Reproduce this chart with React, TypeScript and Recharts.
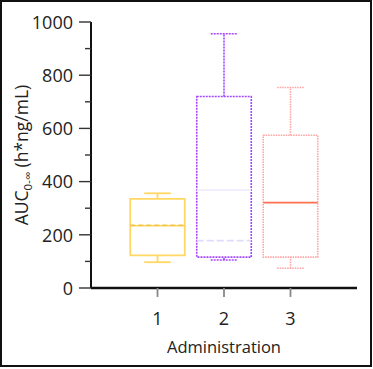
import { ComposedChart, XAxis, YAxis, Scatter, ReferenceArea, ReferenceLine } from "recharts";

// box-plot summary per administration route
const groups = [1, 2, 3];
const whiskerLow = [97, 105, 74];
const quartile1 = [123, 116, 116];
const medians = [234, 368, 321];
const means = [236, 178, 321];
const quartile3 = [335, 720, 574];
const whiskerHigh = [356, 956, 754];

const yTicks = [0, 100, 200, 300, 400, 500, 600, 700, 800, 900, 1000];
const xTicks = [1, 2, 3];

const boxStyles = [
  { stroke: "#FFD762", dash: undefined, median: "#FFD45A", mean: "#F2C441", meanDash: "5 3", width: 1.8 },
  { stroke: "#A447FF", dash: "2 1", median: "#F1ECFF", mean: "#E2D9FF", meanDash: "7 3", width: 1.6 },
  { stroke: "#FFA3A3", dash: "1.5 1", median: "#FF7050", mean: "none", meanDash: undefined, width: 1.6 },
];

const HALF_BOX = 0.41;
const HALF_CAP = 0.2;
const FONT = "'Open Sans', 'Noto Sans', sans-serif";

const points = groups.map((g, i) => ({ x: g, y: medians[i] }));

function YTick({ x, y, payload }: any) {
  const major = payload.value % 200 === 0;
  return (
    <g>
      <line x1={x - (major ? 12 : 6)} x2={x} y1={y} y2={y} stroke="#333" strokeWidth={1.4} />
      {major && (
        <text x={x - 18} y={y} dy="0.38em" textAnchor="end" fontSize={18} fill="#222" fontFamily={FONT}>
          {payload.value}
        </text>
      )}
    </g>
  );
}

function YLabel({ viewBox }: any) {
  const cx = (viewBox?.x ?? 0) + 28;
  const cy = (viewBox?.y ?? 22) + (viewBox?.height ?? 266) / 2;
  return (
    <text transform={`translate(${cx}, ${cy}) rotate(-90)`} textAnchor="middle" fontSize={17.5} fill="#222" fontFamily={FONT}>
      AUC
      <tspan fontSize={11.5} dy={4}>0-∞</tspan>
      <tspan dy={-4}> (h*ng/mL)</tspan>
    </text>
  );
}

export default function App() {
  return (
    <div style={{ position: "absolute", left: 0, top: 0, width: 373, height: 369, background: "#fff" }}>
      <ComposedChart width={373} height={369} data={points} margin={{ top: 22, right: 16, bottom: 0, left: 0 }}>
        <XAxis
          type="number"
          dataKey="x"
          domain={[0, 4]}
          ticks={xTicks}
          height={81}
          axisLine={{ stroke: "#111", strokeWidth: 2.4 }}
          tickLine={{ stroke: "#888", strokeWidth: 1.8 }}
          tickSize={9}
          tickMargin={15}
          tick={{ fontSize: 18, fill: "#222", fontFamily: FONT }}
          label={{ value: "Administration", position: "insideBottom", offset: 16, fontSize: 16.5, fill: "#222", fontFamily: FONT }}
        />
        <YAxis
          type="number"
          dataKey="y"
          domain={[0, 1000]}
          ticks={yTicks}
          interval={0}
          width={91}
          axisLine={{ stroke: "#111", strokeWidth: 2 }}
          tickLine={false}
          tickSize={0}
          tickMargin={0}
          tick={<YTick />}
          label={<YLabel />}
        />
        {groups.map((g, i) => {
          const s = boxStyles[i];
          return [
            <ReferenceLine key={`wl${g}`} segment={[{ x: g, y: whiskerLow[i] }, { x: g, y: quartile1[i] }]} stroke={s.stroke} strokeWidth={s.width} strokeDasharray={s.dash} />,
            <ReferenceLine key={`wh${g}`} segment={[{ x: g, y: quartile3[i] }, { x: g, y: whiskerHigh[i] }]} stroke={s.stroke} strokeWidth={s.width} strokeDasharray={s.dash} />,
            <ReferenceLine key={`cl${g}`} segment={[{ x: g - HALF_CAP, y: whiskerLow[i] }, { x: g + HALF_CAP, y: whiskerLow[i] }]} stroke={s.stroke} strokeWidth={s.width} strokeDasharray={s.dash} />,
            <ReferenceLine key={`ch${g}`} segment={[{ x: g - HALF_CAP, y: whiskerHigh[i] }, { x: g + HALF_CAP, y: whiskerHigh[i] }]} stroke={s.stroke} strokeWidth={s.width} strokeDasharray={s.dash} />,
            <ReferenceArea key={`box${g}`} x1={g - HALF_BOX} x2={g + HALF_BOX} y1={quartile1[i]} y2={quartile3[i]} fill="#fff" fillOpacity={0} stroke={s.stroke} strokeWidth={s.width} strokeDasharray={s.dash} />,
            <ReferenceLine key={`md${g}`} segment={[{ x: g - HALF_BOX, y: medians[i] }, { x: g + HALF_BOX, y: medians[i] }]} stroke={s.median} strokeWidth={1.6} />,
            <ReferenceLine key={`mn${g}`} segment={[{ x: g - HALF_BOX, y: means[i] }, { x: g + HALF_BOX, y: means[i] }]} stroke={s.mean} strokeWidth={1.6} strokeDasharray={s.meanDash} />,
          ];
        })}
        <Scatter dataKey="y" isAnimationActive={false} shape={() => <g />} />
      </ComposedChart>
      <div style={{ position: "absolute", left: 0, top: 0, width: 372, height: 367, border: "2px solid #111", boxSizing: "border-box", pointerEvents: "none" }} />
    </div>
  );
}
